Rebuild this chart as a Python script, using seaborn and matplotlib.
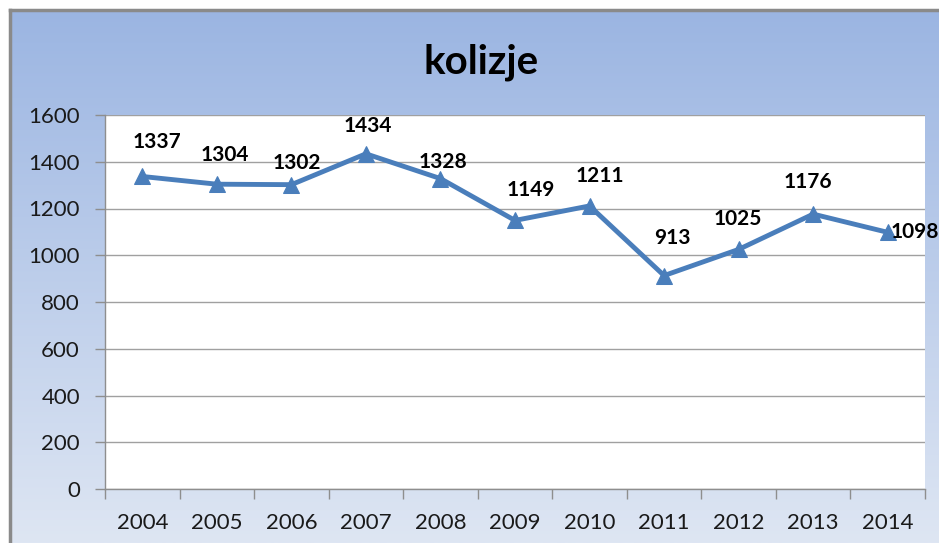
import matplotlib
matplotlib.use('Agg')
import matplotlib.pyplot as plt
import seaborn as sns
import numpy as np
import pandas as pd
from matplotlib.colors import LinearSegmentedColormap

years = ['2004', '2005', '2006', '2007', '2008', '2009', '2010', '2011', '2012', '2013', '2014']
values = [1337, 1304, 1302, 1434, 1328, 1149, 1211, 913, 1025, 1176, 1098]
title = 'kolizje'

# label offsets in pixels (style)
label_dx = [15, 8, 5, 2, 2, 16, 10, 8, -1, -5, 3]
label_dy = [34, 29, 22, 28, 17, 30, 30, 38, 30, 32, 0]
label_ha = ['center'] * 10 + ['left']

sns.set_theme(style='white')
plt.rcParams['font.family'] = ['Lato', 'DejaVu Sans']

W, H = 939, 543
fig = plt.figure(figsize=(W / 100, H / 100), dpi=100)
fig.patch.set_facecolor('white')

# gradient chart background
bg = fig.add_axes([10 / W, 0, 1 - 10 / W, 1 - 10 / H])
grad = np.linspace(0, 1, 256).reshape(-1, 1)
cmap = LinearSegmentedColormap.from_list('g', ['#9bb5e2', '#dee6f3'])
bg.imshow(grad, aspect='auto', cmap=cmap, extent=[0, 1, 0, 1], origin='upper')
bg.set_xticks([]); bg.set_yticks([])
for s in ['bottom', 'right']:
    bg.spines[s].set_visible(False)
for s in ['left', 'top']:
    bg.spines[s].set_color('#8a8a8a')
    bg.spines[s].set_linewidth(2.5)

fig.text(481 / W, 1 - 62 / H, title, ha='center', va='center', fontsize=29, fontweight='bold', color='black')

ax = fig.add_axes([105 / W, 1 - 489 / H, 820 / W, 374 / H])
ax.set_facecolor('white')
df = pd.DataFrame({'year': years, 'value': values})
sns.lineplot(data=df, x='year', y='value', ax=ax, color='#4a7ebb', linewidth=3.5,
             marker='^', markersize=11, markeredgecolor='#4a7ebb', sort=False)

ax.set_ylim(0, 1600)
ax.set_yticks(np.arange(0, 1601, 200))
ax.set_xlim(-0.5, len(years) - 0.5)
ax.set_xticks(np.arange(-0.5, len(years), 1))
ax.set_xticklabels([])
ax.set_xticks(np.arange(len(years)), minor=True)
ax.set_xticklabels(years, minor=True)
ax.tick_params(axis='x', which='major', length=7, width=1, color='#8e8e8e', direction='out', bottom=True)
ax.tick_params(axis='x', which='minor', length=0, pad=17, labelsize=16, labelcolor='#1a1a1a', bottom=True)
ax.tick_params(axis='y', length=7, width=1, color='#8e8e8e', direction='out', left=True, pad=11,
               labelsize=16, labelcolor='#1a1a1a')
ax.set_xlabel(''); ax.set_ylabel('')
ax.yaxis.grid(True, color='#a0a0a0', linewidth=1)
ax.xaxis.grid(False)
ax.set_axisbelow(True)
for s in ['top', 'right']:
    ax.spines[s].set_visible(False)
for s in ['left', 'bottom']:
    ax.spines[s].set_color('#8e8e8e')
    ax.spines[s].set_linewidth(1)

for i, v in enumerate(values):
    ax.annotate(str(v), xy=(i, v), xytext=(label_dx[i], label_dy[i]), textcoords='offset pixels',
                ha=label_ha[i], va='center', fontsize=15, fontweight='bold', color='black',
                annotation_clip=False)

fig.savefig('out.png', dpi=100)
